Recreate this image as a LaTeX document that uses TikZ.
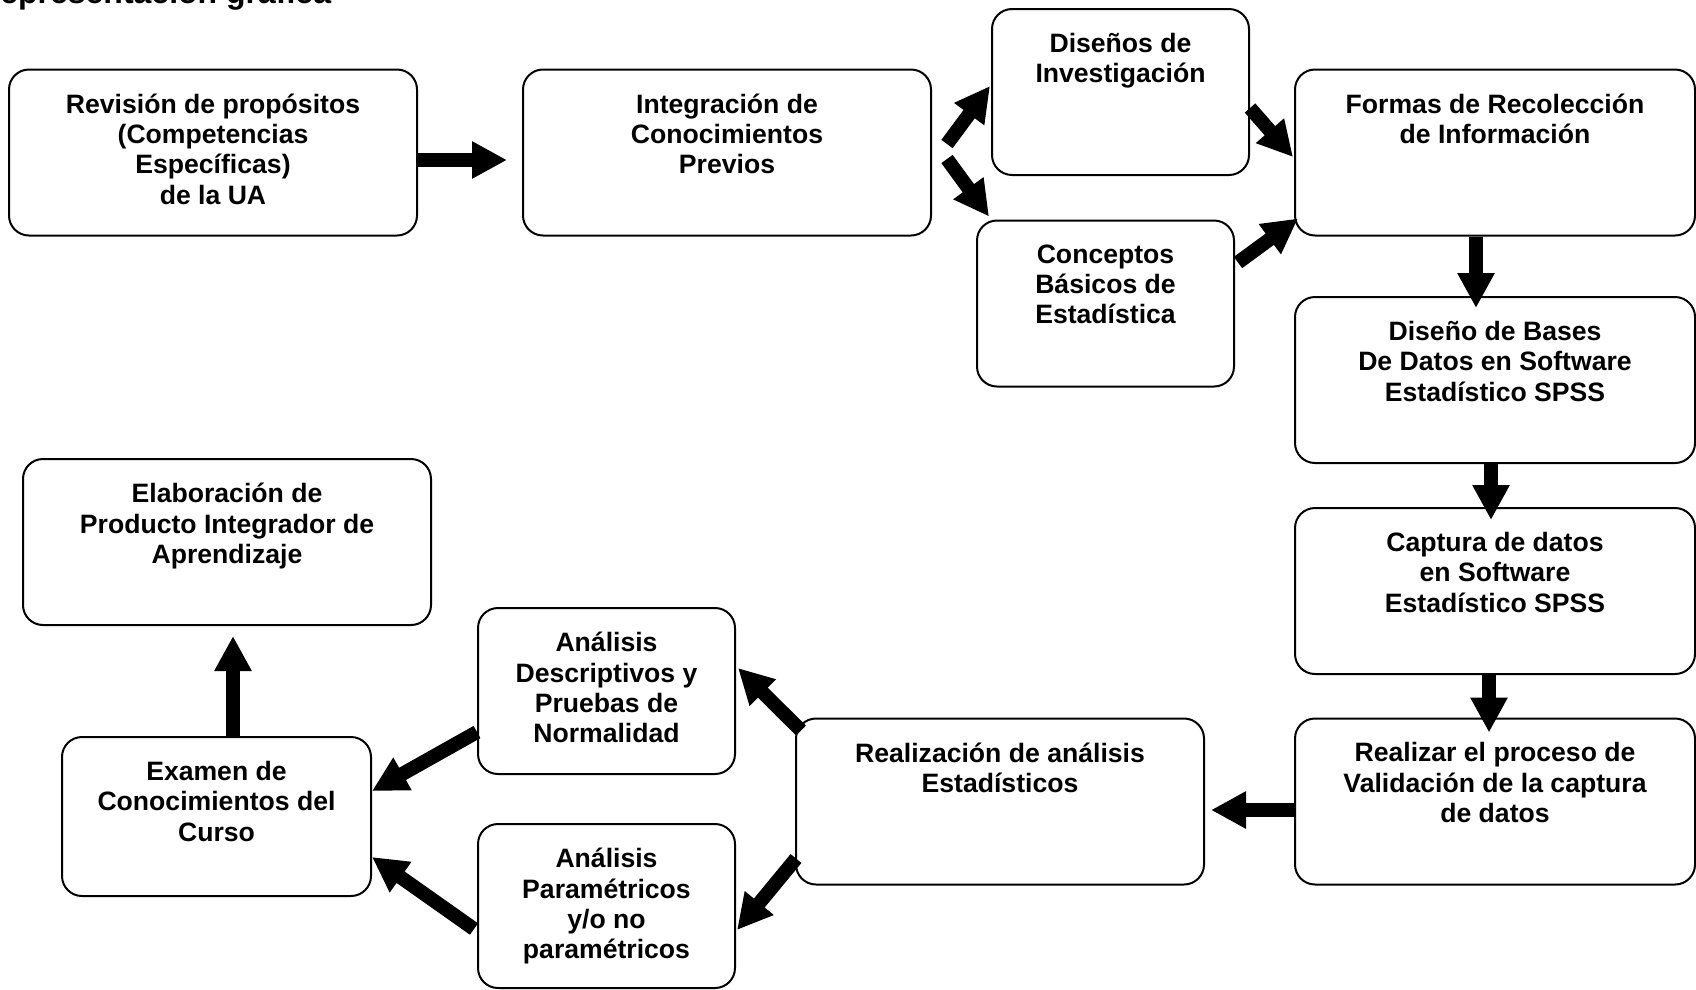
\documentclass[tikz,border=0pt]{standalone}
\usepackage{fontspec}
\setmainfont{Liberation Sans}
\usetikzlibrary{arrows.meta, positioning}

\begin{document}
\begin{tikzpicture}[x=1pt, y=-1pt,
  box/.style={rectangle, draw, line width=2pt, rounded corners=20pt, minimum height=166pt, inner sep=0pt},
  wide/.style={box, minimum width=408pt},
  slim/.style={box, minimum width=257pt},
  col/.style={box, minimum width=400pt},
  txt/.style={align=center, inner sep=0pt, font=\fontsize{26.6pt}{30.3pt}\selectfont\bfseries},
  flow/.style={line width=14pt, -{Triangle[length=35pt, width=35pt]}}]
\useasboundingbox (0,0) rectangle (1696,989);

% title, cut by the top edge
\node[anchor=base west, inner sep=0pt, font=\fontsize{32pt}{36pt}\selectfont\bfseries] (title) at (-23,3) {Representación gráfica};

% top row
\node[wide] (rev) at (213,152.5) {};
\node[txt, below=25pt of rev.north] (revtxt) {Revisión de propósitos\\(Competencias\\Específicas)\\de la UA};
\node[wide] (int) at (727,152.5) {};
\node[txt, below=25pt of int.north] (inttxt) {Integración de\\Conocimientos\\Previos};
\node[slim] (dis) at (1120.5,92) {};
\node[txt, below=25pt of dis.north] (distxt) {Diseños de\\Investigación};
\node[slim] (con) at (1105.5,303.5) {};
\node[txt, below=25pt of con.north] (contxt) {Conceptos\\Básicos de\\Estadística};

% right column
\node[col] (for) at (1495,152.5) {};
\node[txt, below=25pt of for.north] (fortxt) {Formas de Recolección\\de Información};
\node[col] (bas) at (1495,380) {};
\node[txt, below=25pt of bas.north] (bastxt) {Diseño de Bases\\De Datos en Software\\Estadístico SPSS};
\node[col] (cap) at (1495,591) {};
\node[txt, below=25pt of cap.north] (captxt) {Captura de datos\\en Software\\Estadístico SPSS};
\node[col] (val) at (1495,801.5) {};
\node[txt, below=25pt of val.north] (valtxt) {Realizar el proceso de\\Validación de la captura\\de datos};

% bottom row
\node[wide] (rea) at (1000,801.5) {};
\node[txt, below=25pt of rea.north] (reatxt) {Realización de análisis\\Estadísticos};
\node[slim] (des) at (606.5,691) {};
\node[txt, below=25pt of des.north] (destxt) {Análisis\\Descriptivos y\\Pruebas de\\Normalidad};
\node[slim, minimum height=164pt] (par) at (606.5,906) {};
\node[txt, below=25pt of par.north] (partxt) {Análisis\\Paramétricos\\y/o no\\paramétricos};
\node[box, minimum width=309pt, minimum height=159pt] (exa) at (216.5,816.5) {};
\node[txt, below=25pt of exa.north] (exatxt) {Examen de\\Conocimientos del\\Curso};
\node[wide] (ela) at (227,542) {};
\node[txt, below=25pt of ela.north] (elatxt) {Elaboración de\\Producto Integrador de\\Aprendizaje};

% arrows
\draw[flow] ([shift={(0,7.5)}]rev.east) -- ([shift={(-15,7.5)}]int.west);
\draw[flow] ([shift={(15,-8.5)}]int.east) -- ([shift={(-1,-6)}]dis.west);
\draw[flow] ([shift={(15,6.5)}]int.east) -- ([shift={(13,-3)}]con.north west);
\draw[flow] ([shift={(0,16)}]dis.east) -- ([shift={(-1,4.5)}]for.west);
\draw[flow] ([shift={(3,43)}]con.north east) -- ([shift={(4,-18)}]for.south west);
\draw[flow] ([shift={(-19,0)}]for.south) -- ([shift={(-19,12)}]bas.north);
\draw[flow] ([shift={(-4,0)}]bas.south) -- ([shift={(-4,13)}]cap.north);
\draw[flow] ([shift={(-6,0)}]cap.south) -- ([shift={(-6,15)}]val.north);
\draw[flow] ([shift={(0,8.5)}]val.west) -- ([shift={(6,8.5)}]rea.east);
\draw[flow] ([shift={(6,13)}]rea.north west) -- ([shift={(2,-23)}]des.east);
\draw[flow] ([shift={(1,-27)}]rea.south west) -- ([shift={(1,24)}]par.east);
\draw[flow] ([shift={(0,41)}]des.west) -- ([shift={(0,-25.5)}]exa.east);
\draw[flow] ([shift={(-3,23)}]par.west) -- ([shift={(0,40.5)}]exa.east);
\draw[flow] ([shift={(16.5,0)}]exa.north) -- ([shift={(6,10)}]ela.south);
\end{tikzpicture}
\end{document}
